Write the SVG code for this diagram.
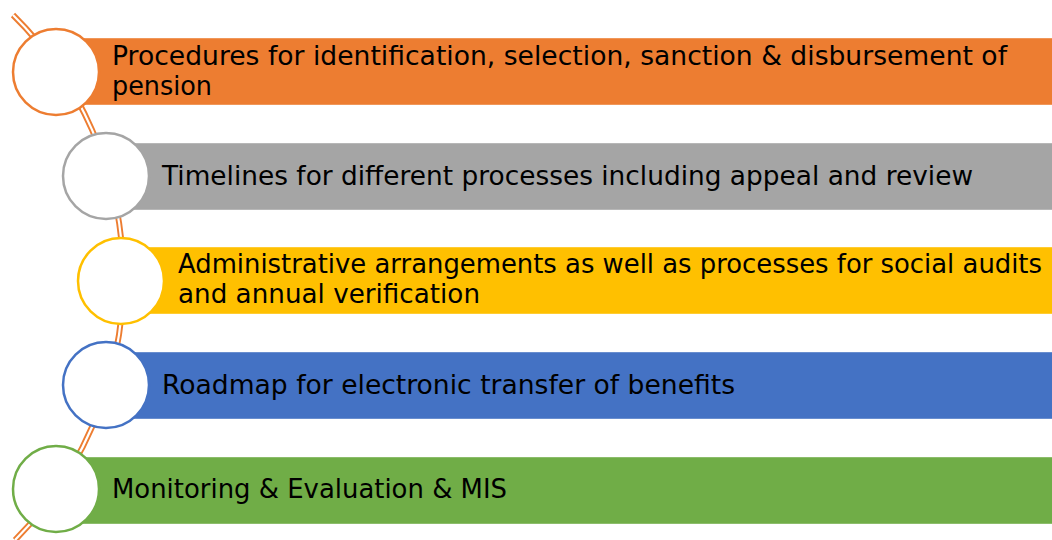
<svg xmlns="http://www.w3.org/2000/svg" width="1052" height="540" viewBox="0 0 1052 540">
<style>
.t{font-family:"DejaVu Sans","Liberation Sans",Verdana,sans-serif;font-size:26px;fill:#000}
.c{fill:#fff;stroke-width:2.5}
.b{stroke:#fff;stroke-opacity:0.4;stroke-width:1}
.arc{fill:none}
</style>
<rect width="1052" height="540" fill="#fff"/>
<g id="connectors">
<path class="arc" d="M 13 15 A 370 370 0 0 1 15 540" stroke="#ED7D31" stroke-width="6"/>
<path class="arc" d="M 13 15 A 370 370 0 0 1 15 540" stroke="#fff" stroke-width="2.2"/>
</g>
<g id="node1">
<rect class="b" x="56" y="38" width="1000" height="67" fill="#ED7D31"/>
<circle class="c" cx="56" cy="72" r="43" stroke="#ED7D31"/>
<text class="t" x="112" y="65" textLength="895" lengthAdjust="spacingAndGlyphs">Procedures for identification, selection, sanction &amp; disbursement of</text>
<text class="t" x="112" y="95" textLength="100" lengthAdjust="spacingAndGlyphs">pension</text>
</g>
<g id="node2">
<rect class="b" x="106" y="143" width="950" height="67" fill="#A5A5A5"/>
<circle class="c" cx="106" cy="176" r="43" stroke="#A5A5A5"/>
<text class="t" x="162" y="185" textLength="811" lengthAdjust="spacingAndGlyphs">Timelines for different processes including appeal and review</text>
</g>
<g id="node3">
<rect class="b" x="121" y="247" width="935" height="67" fill="#FFC000"/>
<circle class="c" cx="121" cy="281" r="43" stroke="#FFC000"/>
<text class="t" x="178" y="273" textLength="864" lengthAdjust="spacingAndGlyphs">Administrative arrangements as well as processes for social audits</text>
<text class="t" x="178" y="303" textLength="302" lengthAdjust="spacingAndGlyphs">and annual verification</text>
</g>
<g id="node4">
<rect class="b" x="106" y="352" width="950" height="67" fill="#4472C4"/>
<circle class="c" cx="106" cy="385" r="43" stroke="#4472C4"/>
<text class="t" x="162" y="394" textLength="573" lengthAdjust="spacingAndGlyphs">Roadmap for electronic transfer of benefits</text>
</g>
<g id="node5">
<rect class="b" x="56" y="457" width="1000" height="67" fill="#70AD47"/>
<circle class="c" cx="56" cy="489" r="43" stroke="#70AD47"/>
<text class="t" x="112" y="498" textLength="395" lengthAdjust="spacingAndGlyphs">Monitoring &amp; Evaluation &amp; MIS</text>
</g>
</svg>
